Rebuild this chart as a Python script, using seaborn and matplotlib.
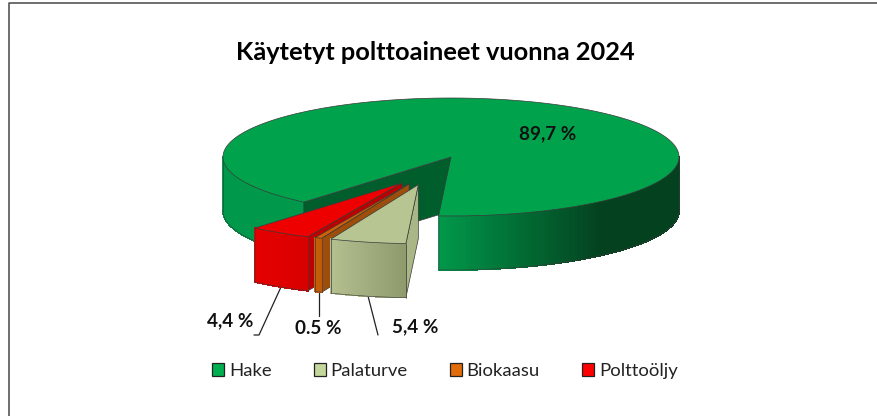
import numpy as np
import seaborn as sns
import matplotlib.pyplot as plt
from matplotlib.patches import Patch

categories = ['Hake', 'Palaturve', 'Biokaasu', 'Polttoöljy']
shares = [89.7, 5.4, 0.5, 4.4]
share_labels = ['89,7 %', '5,4 %', '0.5 %', '4,4 %']
legend_colors = ['#00B050', '#C4D79B', '#E26B0A', '#FF0000']

# styles per slice: top, side gradient start/end, cut face
top_colors = ['#00A24C', '#B6C592', '#CC6208', '#EE0000']
side_left = ['#00984A', '#B4C090', '#C86008', '#E60000']
side_right = ['#04421F', '#8E9A6C', '#C05A08', '#D80000']
cut_colors = ['#005E2C', '#A9B786', '#9C4E0A', '#BE0000']

# exploded slices move along these directions, the share of the radius is the same
explode_dir = [0, 253, 248, 244]
explode_r = [0, 0.49, 0.49, 0.49]

cx, cy = 451, 157
rx, ry = 228, 59
depth = 54
start_angle = 229.8
edge_col = '#3a3a3a'


def to_xy(px, py, angle):
    a = np.radians(angle)
    return px + rx * np.cos(a), py - ry * np.sin(a)


def draw_side(ax, px, py, a0, a1, c0, c1, x0, x1, z=2):
    # small quads so the side gets a horizontal gradient
    ramp = sns.blend_palette([c0, c1], 60)
    angles = np.linspace(a0, a1, max(int(abs(a1 - a0) * 2), 2) + 1)
    for a, b in zip(angles[:-1], angles[1:]):
        xa, ya = to_xy(px, py, a)
        xb, yb = to_xy(px, py, b)
        t = np.clip((0.5 * (xa + xb) - x0) / (x1 - x0), 0, 1)
        col = ramp[int(t * 59)]
        ax.fill([xa, xb, xb, xa], [ya, yb, yb + depth, ya + depth], color=col, lw=0.6,
                antialiased=False, zorder=z)
    xs, ys = to_xy(px, py, angles)
    ax.plot(xs, ys + depth, color=edge_col, lw=0.4, zorder=z + 0.5)


def draw_slice(ax, i, a0, a1):
    # a0 > a1, clockwise from a0 to a1
    d = np.radians(explode_dir[i])
    px = cx + rx * explode_r[i] * np.cos(d)
    py = cy - ry * explode_r[i] * np.sin(d)
    x0, y0 = to_xy(px, py, a0)
    x1, y1 = to_xy(px, py, a1)
    edge = dict(edgecolor=edge_col, lw=0.5)

    if i == 0:
        # the big slice: left side, right side, then the inner face of the gap
        draw_side(ax, px, py, 180, a0, side_left[0], side_left[0], 223, 304)
        draw_side(ax, px, py, a1 + 360, 360, side_left[0], side_right[0], x1, 600)
        ax.plot([x1, x1], [y1, y1 + depth], color='#555555', lw=0.5, zorder=3)
        ax.plot([cx - rx, cx - rx], [cy, cy + depth], color=edge_col, lw=0.4, zorder=3)
        ax.plot([cx + rx, cx + rx], [cy, cy + depth], color=edge_col, lw=0.4, zorder=3)
        ax.fill([px, x0, x0, px], [py, y0, y0 + depth, py + depth], facecolor=cut_colors[0], zorder=4, **edge)
        top_z = 6
    else:
        # later slices in the list lie further back, so palaturve goes on top
        z = 10 + (3 - i) * 3
        ax.fill([px, x0, x0, px], [py, y0, y0 + depth, py + depth], facecolor=cut_colors[i], zorder=z, **edge)
        draw_side(ax, px, py, a1, a0, side_left[i], side_right[i], x1, x0, z=z)
        ax.plot([x0, x0], [y0, y0 + depth], color=edge_col, lw=0.5, zorder=z + 1)
        ax.plot([x1, x1], [y1, y1 + depth], color=edge_col, lw=0.5, zorder=z + 1)
        top_z = z + 1

    angles = np.linspace(a0, a1, 400)
    xs, ys = to_xy(px, py, angles)
    ax.fill(np.r_[px, xs], np.r_[py, ys], facecolor=top_colors[i], zorder=top_z, **edge)


sns.set_theme(style='white')
plt.rcParams['font.family'] = ['Lato', 'DejaVu Sans']

fig = plt.figure(figsize=(8.78, 4.16), dpi=100)
ax = fig.add_axes([0, 0, 1, 1])
ax.set_xlim(0, 878)
ax.set_ylim(416, 0)
ax.axis('off')

# chart frame, only top and left stay inside the picture
ax.plot([9, 9, 878], [416, 3, 3], color='#555555', lw=1.2)

# clockwise, the first slice ends where the gap begins
ends = start_angle - 3.6 * np.cumsum(shares)
starts = np.r_[start_angle, ends[:-1]]
for i in range(len(shares)):
    draw_slice(ax, i, starts[i], ends[i])

ax.text(435.5, 52, 'Käytetyt polttoaineet vuonna 2024', ha='center', va='center',
        fontsize=18.3, fontweight='bold', color='black')

# labels and leader lines
label_style = dict(ha='center', va='center', fontsize=13.6, fontweight='bold', color='#111111', zorder=30)
ax.text(548, 134, share_labels[0], **label_style)
ax.text(415, 327, share_labels[1], **label_style)
ax.text(318, 329, share_labels[2], **label_style)
ax.text(230, 321, share_labels[3], **label_style)
ax.plot([368, 378], [296, 335], color='#222222', lw=0.9, zorder=1)
ax.plot([319, 319], [293, 316], color='#222222', lw=0.9, zorder=1)
ax.plot([281, 259, 254], [287, 335, 335], color='#222222', lw=0.9, zorder=1)

handles = [Patch(facecolor=c, edgecolor='#222222', lw=0.9) for c in legend_colors]
ax.legend(handles, categories, ncol=4, frameon=False, loc='center', bbox_to_anchor=(445 / 878, 1 - 371 / 416),
          fontsize=13.3, handlelength=0.65, handleheight=0.65, handletextpad=0.25, columnspacing=2.3,
          labelcolor='#222222')

fig.savefig('out.png', dpi=100)
